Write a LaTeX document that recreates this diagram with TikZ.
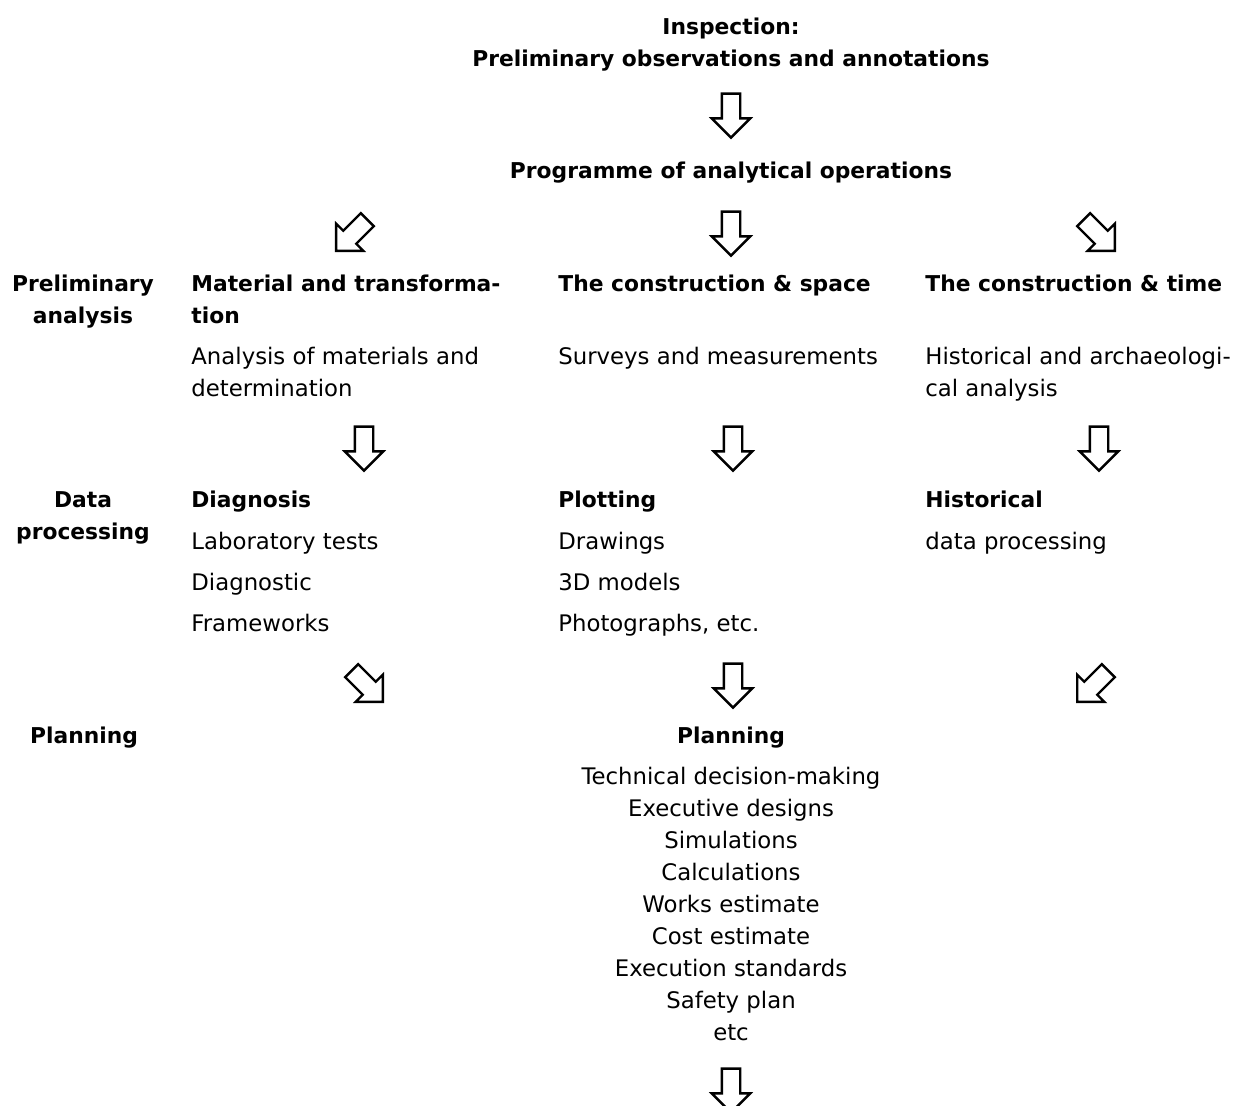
\documentclass[tikz,border=0pt]{standalone}
\usepackage{fontspec}
\setmainfont{DejaVu Sans}
\usetikzlibrary {positioning}
\usetikzlibrary {shapes.arrows}

\begin{document}
\begin{tikzpicture}[x=0.5pt,y=-0.5pt,
    blockarr/.style={
      % The shape:
      single arrow,minimum height=22pt,minimum width=18pt,
      single arrow head extend=5pt,inner sep=4pt,
      % Border
      line width=1.2pt,draw=black
      },
    stage/.style={font=\fontsize{10.9}{16.25}\selectfont\bfseries,
      align=center,anchor=base,inner sep=0pt},
    head/.style={font=\fontsize{10.9}{16}\selectfont\bfseries,
      align=left,anchor=base west,inner sep=0pt},
    item/.style={font=\fontsize{11.4}{16}\selectfont,
      align=left,anchor=base west,inner sep=0pt}]
  \useasboundingbox (0,0) rectangle (1254,1106);
  % top of the chart
  \node (insp) [stage] at (731,67) {Inspection:\\Preliminary observations and annotations};
  \node (a-insp) [blockarr,rotate=-90] at (731,111) {};
  \node (prog) [stage] at (731,179) {Programme of analytical operations};
  \node (a-prog-l) [blockarr,rotate=225] at (355,232) {};
  \node (a-prog-c) [blockarr,rotate=-90] at (731,229) {};
  \node (a-prog-r) [blockarr,rotate=-45] at (1096,232) {};
  % preliminary analysis
  \node (lab-pre) [stage] at (83,324) {Preliminary\\analysis};
  \node (mat) [head] at (191,324) {Material and transforma-\\tion};
  \node (mat-an) [item] at (191,397) {Analysis of materials and\\determination};
  \node (space) [head] at (558,292) {The construction \& space};
  \node (space-sur) [item] at (558,365) {Surveys and measurements};
  \node (time) [head] at (925,292) {The construction \& time};
  \node (time-hist) [item] at (925,397) {Historical and archaeologi-\\cal analysis};
  \node (a-mat) [blockarr,rotate=-90] at (364,444) {};
  \node (a-space) [blockarr,rotate=-90] at (733,444) {};
  \node (a-time) [blockarr,rotate=-90] at (1099,444) {};
  % data processing
  \node (lab-data) [stage] at (83,540) {Data\\processing};
  \node (diag) [head] at (191,508) {Diagnosis};
  \node (diag-list) [item,font=\fontsize{11.4}{20.5}\selectfont] at (191,632)
    {Laboratory tests\\Diagnostic\\Frameworks};
  \node (plot) [head] at (558,508) {Plotting};
  \node (plot-list) [item,font=\fontsize{11.4}{20.5}\selectfont] at (558,632)
    {Drawings\\3D models\\Photographs, etc.};
  \node (hist) [head] at (925,508) {Historical};
  \node (hist-data) [item] at (925,550) {data processing};
  \node (a-diag) [blockarr,rotate=-45] at (364,683) {};
  \node (a-plot) [blockarr,rotate=-90] at (733,681) {};
  \node (a-hist) [blockarr,rotate=225] at (1096,683) {};
  % planning
  \node (lab-plan) [stage] at (84,744) {Planning};
  \node (plan) [stage] at (731,744) {Planning};
  \node (plan-list) [stage,font=\fontsize{11.4}{16}\selectfont] at (731,1040)
    {Technical decision-making\\Executive designs\\Simulations\\Calculations\\
     Works estimate\\Cost estimate\\Execution standards\\Safety plan\\etc};
  \node (a-plan) [blockarr,rotate=-90] at (731,1086) {};
\end{tikzpicture}
\end{document}
